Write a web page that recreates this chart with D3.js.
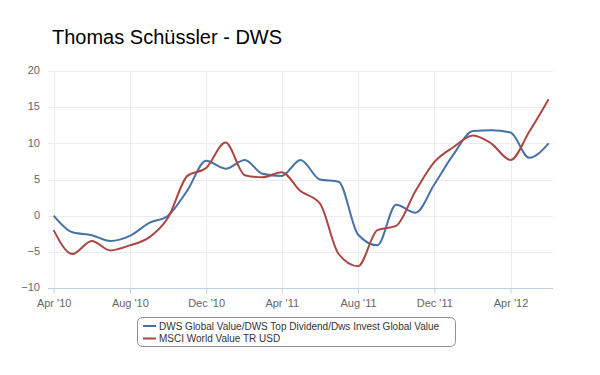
<!DOCTYPE html>
<html>
<head>
<meta charset="utf-8">
<script src="https://cdn.jsdelivr.net/npm/d3@7"></script>
<style>
    body { margin: 0; background: #fff; }
    svg { font-family: "Liberation Sans", Arial, sans-serif; }
</style>
</head>
<body>
<svg id="chart" width="600" height="375"></svg>
<script>
// monthly performance, Apr 2010 - Jun 2012
var months = ["2010-04", "2010-05", "2010-06", "2010-07", "2010-08", "2010-09", "2010-10", "2010-11", "2010-12",
    "2011-01", "2011-02", "2011-03", "2011-04", "2011-05", "2011-06", "2011-07", "2011-08", "2011-09", "2011-10",
    "2011-11", "2011-12", "2012-01", "2012-02", "2012-03", "2012-04", "2012-05", "2012-06"];
var dwsValues = [0, -2.3, -2.7, -3.5, -2.8, -1, 0, 3.5, 7.6, 6.5, 7.7, 5.8, 5.5, 7.7, 5, 4.7, -2.6, -4.1, 1.5, 0.4,
    4.3, 8.5, 11.7, 11.8, 11.5, 8, 10];
var msciValues = [-2, -5.3, -3.5, -4.8, -4.1, -3, -0.3, 5.5, 6.6, 10.1, 5.6, 5.3, 6, 3.4, 1.7, -5.3, -7, -2, -1.4, 3.4,
    7.4, 9.5, 11.1, 10, 7.7, 11.6, 16.1];
var seriesNames = ["DWS Global Value/DWS Top Dividend/Dws Invest Global Value", "MSCI World Value TR USD"];
var xTicks = ["2010-04", "2010-08", "2010-12", "2011-04", "2011-08", "2011-12", "2012-04"];
var yTicks = [-10, -5, 0, 5, 10, 15, 20];
var colors = ["#4572A7", "#AA4643"];

var parse = d3.timeParse("%Y-%m");
var svg = d3.select("#chart");
var plotLeft = 48, plotRight = 553, plotTop = 71, plotBottom = 288;

var x = d3.scaleTime()
    .domain([new Date(2010, 2, 23), new Date(2012, 5, 8)])
    .range([plotLeft, plotRight]);
var y = d3.scaleLinear().domain([-10, 20]).range([plotBottom, plotTop]);

svg.append("text")
    .attr("x", 52).attr("y", 44)
    .attr("font-size", 20).attr("fill", "#000")
    .text("Thomas Schüssler - DWS");

// grid
var g = svg.append("g");
g.selectAll("line.h").data(yTicks).enter().append("line")
    .attr("x1", plotLeft).attr("x2", plotRight)
    .attr("y1", function (d) { return Math.round(y(d)) + 0.5; })
    .attr("y2", function (d) { return Math.round(y(d)) + 0.5; })
    .attr("stroke", function (d) { return d === -10 ? "#C0D0E0" : "#ececec"; });
g.selectAll("line.v").data(xTicks).enter().append("line")
    .attr("x1", function (d) { return Math.round(x(parse(d))) + 0.5; })
    .attr("x2", function (d) { return Math.round(x(parse(d))) + 0.5; })
    .attr("y1", plotTop).attr("y2", plotBottom)
    .attr("stroke", "#ececec");

// axes
var xAxis = svg.append("g")
    .attr("transform", "translate(0," + (plotBottom + 0.5) + ")")
    .call(d3.axisBottom(x).tickValues(xTicks.map(parse)).tickSize(5).tickPadding(6)
        .tickFormat(d3.timeFormat("%b '%y")));
xAxis.select(".domain").remove();
xAxis.selectAll("line").attr("stroke", "#C0D0E0");
xAxis.selectAll("text").attr("fill", "#666").attr("font-size", 11)
    .attr("font-family", "Liberation Sans, Arial, sans-serif");

var yAxis = svg.append("g")
    .attr("transform", "translate(" + plotLeft + ",0)")
    .call(d3.axisLeft(y).tickValues(yTicks).tickSize(0).tickPadding(8));
yAxis.select(".domain").remove();
yAxis.selectAll("text").attr("fill", "#666").attr("font-size", 11).attr("dy", "0.25em")
    .attr("font-family", "Liberation Sans, Arial, sans-serif");

// lines
var line = d3.line()
    .x(function (d) { return x(d[0]); })
    .y(function (d) { return y(d[1]); })
    .curve(d3.curveMonotoneX);

[dwsValues, msciValues].forEach(function (vals, i) {
    svg.append("path")
        .datum(months.map(function (m, j) { return [parse(m), vals[j]]; }))
        .attr("fill", "none")
        .attr("stroke", colors[i])
        .attr("stroke-width", 2)
        .attr("stroke-linejoin", "round")
        .attr("d", line);
});

// legend
var legend = svg.append("g");
legend.append("rect")
    .attr("x", 137.5).attr("y", 317.5)
    .attr("width", 318).attr("height", 29)
    .attr("rx", 5)
    .attr("fill", "#fff").attr("stroke", "#909090");

var items = legend.selectAll("g.item").data(seriesNames).enter().append("g")
    .attr("transform", function (d, i) { return "translate(143," + (326 + i * 12.5) + ")"; });
items.append("line")
    .attr("x1", 0).attr("x2", 13).attr("y1", 0).attr("y2", 0)
    .attr("stroke-width", 2)
    .attr("stroke", function (d, i) { return colors[i]; });
items.append("text")
    .attr("x", 16).attr("dy", "0.35em")
    .attr("font-size", 10).attr("fill", "#333")
    .text(function (d) { return d; });
</script>
</body>
</html>
